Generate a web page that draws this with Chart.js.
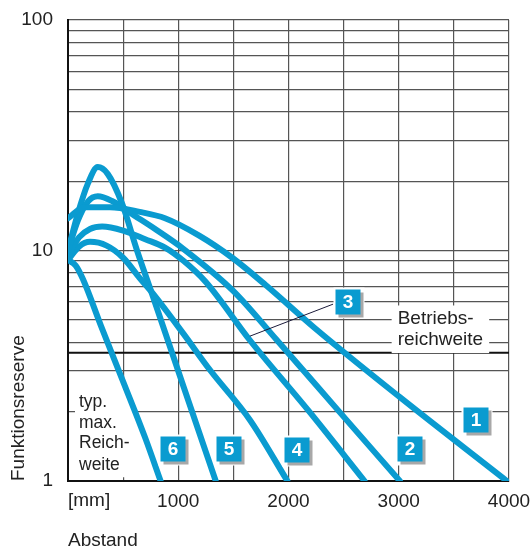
<!DOCTYPE html>
<html>
<head>
<meta charset="utf-8">
<script src="https://cdn.jsdelivr.net/npm/chart.js@4/dist/chart.umd.min.js"></script>
<style>
  html, body { margin: 0; padding: 0; background: #fff; }
  #chart { display: block; }
</style>
</head>
<body>
<canvas id="chart" width="531" height="547"></canvas>
<script>
// Abstand [mm] / Funktionsreserve
var curve1X = [0, 150, 380, 650, 880, 1190, 1490, 1790, 2240, 3010, 3980];
var curve1Y = [13.8, 15.4, 15.4, 14.7, 13.8, 11.6, 9.3, 7.1, 4.6, 2.31, 1.0];

var curve2X = [0, 90, 180, 270, 400, 600, 800, 1043, 1496, 1896, 2460, 3010];
var curve2Y = [10, 13.5, 16.3, 17.2, 16.4, 14.2, 12.3, 10.2, 6.7, 4.08, 2.0, 1.0];

var curve3X = [0, 100, 200, 310, 500, 700, 880, 1050, 1250, 1650, 2200, 2690];
var curve3Y = [9.5, 11.4, 12.4, 12.7, 12.2, 11.2, 10.3, 9.0, 7.3, 4.08, 1.97, 1.0];

var curve4X = [0, 100, 200, 350, 500, 650, 771, 1043, 1288, 1650, 1990];
var curve4Y = [9.1, 10.4, 10.9, 10.5, 9.3, 7.6, 6.5, 4.38, 3.03, 1.84, 1.0];

var curve5X = [0, 90, 180, 270, 360, 490, 626, 771, 1050, 1340];
var curve5Y = [10, 14.5, 19.5, 23, 21.5, 16, 10, 6.3, 2.55, 1.0];

var curve6X = [0, 70, 136, 300, 500, 700, 840];
var curve6Y = [9.1, 8.6, 7.5, 4.7, 2.7, 1.54, 1.0];

var xTicks = [0, 500, 1000, 1500, 2000, 2500, 3000, 3500, 4000];
var xTickLabels = ['', '', '1000', '', '2000', '', '3000', '', '4000'];
var yTicks = [1, 2, 3, 4, 5, 6, 7, 8, 9, 10, 20, 30, 40, 50, 60, 70, 80, 90, 100];
var yTickLabels = { 1: '1', 10: '10', 100: '100' };

var betriebsLevel = 3.6;

// numbered boxes: [text, x mm, Funktionsreserve]
var boxLabels = [
  ['1', 3700, 1.84],
  ['2', 3100, 1.38],
  ['3', 2540, 5.97],
  ['4', 2077, 1.36],
  ['5', 1460, 1.38],
  ['6', 952, 1.38]
];
var leader3 = [[1650, 4.25], [2404, 5.85]];

var blue = '#0a9bd0';
var textColor = '#222';
var fontFamily = '"Liberation Sans", Arial, sans-serif';

function points(xs, ys) {
  var out = [];
  for (var i = 0; i < xs.length; i++) {
    out.push({ x: xs[i], y: ys[i] });
  }
  return out;
}

var curves = [
  [curve1X, curve1Y], [curve2X, curve2Y], [curve3X, curve3Y],
  [curve4X, curve4Y], [curve5X, curve5Y], [curve6X, curve6Y]
];

var datasets = curves.map(function(c, i) {
  return {
    label: 'Kurve ' + (i + 1),
    data: points(c[0], c[1]),
    borderColor: blue,
    borderWidth: 6,
    borderCapStyle: 'round',
    borderJoinStyle: 'round',
    cubicInterpolationMode: 'monotone',
    pointRadius: 0,
    fill: false
  };
});

function textBlock(ctx, lines, left, centers, size, pad) {
  ctx.font = size + 'px ' + fontFamily;
  var w = 0;
  lines.forEach(function(l) { w = Math.max(w, ctx.measureText(l).width); });
  ctx.fillStyle = '#fff';
  ctx.fillRect(left - pad, centers[0] - size * 0.7, w + pad * 2, centers[centers.length - 1] - centers[0] + size * 1.4);
  ctx.fillStyle = textColor;
  ctx.textAlign = 'left';
  ctx.textBaseline = 'middle';
  lines.forEach(function(l, i) { ctx.fillText(l, left, centers[i]); });
}

var annotate = {
  id: 'annotate',
  beforeDatasetsDraw: function(chart) {
    var ctx = chart.ctx, xs = chart.scales.x, ys = chart.scales.y, area = chart.chartArea;
    ctx.save();

    // Betriebsreichweite
    var yb = ys.getPixelForValue(betriebsLevel);
    ctx.strokeStyle = '#111';
    ctx.lineWidth = 2;
    ctx.beginPath();
    ctx.moveTo(area.left, yb);
    ctx.lineTo(area.right, yb);
    ctx.stroke();

    var bx = xs.getPixelForValue(2990);
    textBlock(ctx, ['Betriebs-', 'reichweite'], bx, [yb - 34, yb - 13], 19, 6);

    textBlock(ctx, ['typ.', 'max.', 'Reich-', 'weite'], area.left + 11,
      [area.bottom - 79, area.bottom - 58, area.bottom - 38, area.bottom - 16], 17.5, 4);

    // unit label under the origin
    ctx.font = '19px ' + fontFamily;
    ctx.fillStyle = textColor;
    ctx.textAlign = 'left';
    ctx.textBaseline = 'middle';
    ctx.fillText('[mm]', area.left, area.bottom + 20);
    ctx.restore();
  },
  afterDatasetsDraw: function(chart) {
    var ctx = chart.ctx, xs = chart.scales.x, ys = chart.scales.y;
    ctx.save();

    ctx.strokeStyle = '#1b1b3a';
    ctx.lineWidth = 1;
    ctx.beginPath();
    ctx.moveTo(xs.getPixelForValue(leader3[0][0]), ys.getPixelForValue(leader3[0][1]));
    ctx.lineTo(xs.getPixelForValue(leader3[1][0]), ys.getPixelForValue(leader3[1][1]));
    ctx.stroke();

    var s = 25;
    boxLabels.forEach(function(b) {
      var px = Math.round(xs.getPixelForValue(b[1]));
      var py = Math.round(ys.getPixelForValue(b[2]));
      ctx.fillStyle = '#fff';
      ctx.fillRect(px - s / 2 - 2, py - s / 2 - 2, s + 6, s + 6);
      ctx.fillStyle = '#a8a8a8';
      ctx.fillRect(px - s / 2 + 3, py - s / 2 + 3, s, s);
      ctx.fillStyle = blue;
      ctx.fillRect(px - s / 2, py - s / 2, s, s);
      ctx.fillStyle = '#fff';
      ctx.font = 'bold 19px ' + fontFamily;
      ctx.textAlign = 'center';
      ctx.textBaseline = 'middle';
      ctx.fillText(b[0], px, py + 1);
    });
    ctx.restore();
  }
};

var graph = document.getElementById('chart');
var myChart = new Chart(graph, {
  type: 'line',
  data: { datasets: datasets },
  options: {
    responsive: false,
    animation: false,
    events: [],
    layout: { padding: { top: 20, right: 22, left: 0, bottom: 0 } },
    plugins: {
      legend: { display: false },
      tooltip: { enabled: false }
    },
    scales: {
      x: {
        type: 'linear',
        min: 0,
        max: 4000,
        afterBuildTicks: function(scale) {
          scale.ticks = xTicks.map(function(v) { return { value: v }; });
        },
        afterFit: function(scale) { scale.height = 66; },
        // invisible tick marks used as label offset (ticks.padding would shrink the plot)
        grid: { color: '#555', lineWidth: 1.2, drawTicks: true, tickLength: 9, tickColor: 'rgba(0,0,0,0)' },
        border: { color: '#111', width: 2 },
        ticks: {
          autoSkip: false,
          maxRotation: 0,
          padding: 0,
          color: textColor,
          font: { family: fontFamily, size: 19 },
          callback: function(v) {
            var i = xTicks.indexOf(v);
            return i >= 0 ? xTickLabels[i] : '';
          }
        },
        title: {
          display: true,
          text: 'Abstand',
          align: 'start',
          color: textColor,
          font: { family: fontFamily, size: 19, lineHeight: 0.7 },
          padding: { top: 0, bottom: 0 }
        }
      },
      y: {
        type: 'logarithmic',
        min: 1,
        max: 100,
        afterBuildTicks: function(scale) {
          scale.ticks = yTicks.map(function(v) { return { value: v }; });
        },
        afterFit: function(scale) { scale.width = 68; },
        grid: { color: '#555', lineWidth: 1.2, drawTicks: true, tickLength: 15, tickColor: 'rgba(0,0,0,0)' },
        border: { color: '#111', width: 2 },
        ticks: {
          autoSkip: false,
          padding: 0,
          color: textColor,
          font: { family: fontFamily, size: 19 },
          callback: function(v) { return yTickLabels[v] || ''; }
        },
        title: {
          display: true,
          text: 'Funktionsreserve',
          align: 'start',
          color: textColor,
          font: { family: fontFamily, size: 19, lineHeight: 1 },
          padding: { top: 9, bottom: 0 }
        }
      }
    }
  },
  plugins: [annotate]
});
</script>
</body>
</html>
